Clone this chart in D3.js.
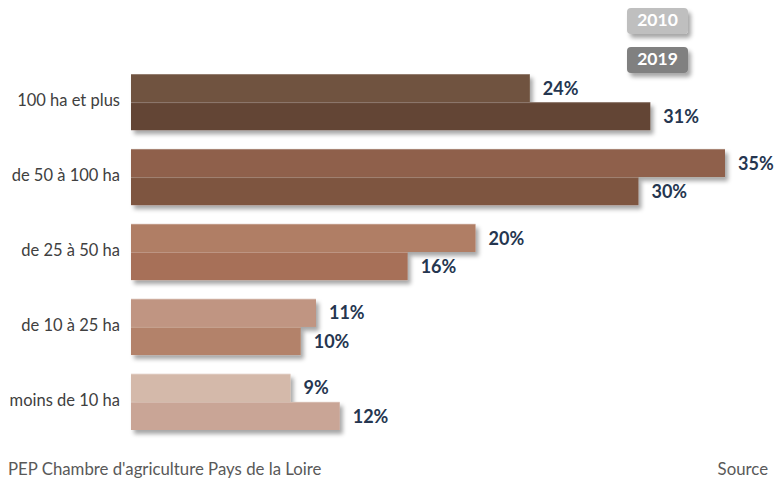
<!DOCTYPE html>
<html>
<head>
<meta charset="utf-8">
<script src="https://cdn.jsdelivr.net/npm/d3@7"></script>
<style>
  body { margin: 0; background: #fff; }
  text { font-family: Lato, "Open Sans", sans-serif; }
</style>
</head>
<body>
<script>
//chart data
var categories = ["100 ha et plus", "de 50 à 100 ha", "de 25 à 50 ha", "de 10 à 25 ha", "moins de 10 ha"];
var years = ["2010", "2019"];
var values2010 = [23.5, 35.0, 20.3, 10.9, 9.4];
var values2019 = [30.6, 29.9, 16.3, 10.0, 12.3];
var labels2010 = ["24%", "35%", "20%", "11%", "9%"];
var labels2019 = ["31%", "30%", "16%", "10%", "12%"];

//bar colours, one pair per category
var colors2010 = ["#70523f", "#8f614b", "#b07e65", "#c09582", "#d4b9aa"];
var colors2019 = ["#634434", "#7e5540", "#a77058", "#b3826b", "#c9a596"];

var width = 775,
    height = 478;

var svg = d3.select("body")
    .append("svg")
    .attr("width", width)
    .attr("height", height);

//drop shadow for bars and legend boxes
var defs = svg.append("defs");
defs.append("filter")
    .attr("id", "shadow")
    .attr("x", "-10%").attr("y", "-20%")
    .attr("width", "130%").attr("height", "160%")
    .append("feDropShadow")
    .attr("dx", 3).attr("dy", 4)
    .attr("stdDeviation", 2)
    .attr("flood-color", "#000")
    .attr("flood-opacity", 0.35);

var x = d3.scaleLinear()
    .domain([0, 35])
    .range([131, 725]);

var y = d3.scaleBand()
    .domain(categories)
    .range([74, 430])
    .paddingInner(0.25);

var ySub = d3.scaleBand()
    .domain(years)
    .range([0, y.bandwidth()]);

var rows = categories.map(function(c, i) {
    return {
        cat: c,
        bars: [
            {year: "2010", v: values2010[i], label: labels2010[i], color: colors2010[i]},
            {year: "2019", v: values2019[i], label: labels2019[i], color: colors2019[i]}
        ]
    };
});

var groups = svg.selectAll(".group")
    .data(rows)
    .enter()
    .append("g")
    .attr("class", "group")
    .attr("transform", function(d) { return "translate(0," + y(d.cat) + ")"; });

//bars
groups.selectAll(".bar")
    .data(function(d) { return d.bars; })
    .enter()
    .append("rect")
    .attr("class", "bar")
    .attr("x", x(0))
    .attr("y", function(d) { return ySub(d.year); })
    .attr("width", function(d) { return x(d.v) - x(0); })
    .attr("height", ySub.bandwidth())
    .attr("fill", function(d) { return d.color; })
    .attr("filter", "url(#shadow)");

//thin light edge on top of each bar
groups.selectAll(".edge")
    .data(function(d) { return d.bars; })
    .enter()
    .append("rect")
    .attr("class", "edge")
    .attr("x", x(0))
    .attr("y", function(d) { return ySub(d.year); })
    .attr("width", function(d) { return x(d.v) - x(0); })
    .attr("height", 1)
    .attr("fill", "#fff")
    .attr("opacity", 0.25);

//value labels
groups.selectAll(".val")
    .data(function(d) { return d.bars; })
    .enter()
    .append("text")
    .attr("class", "val")
    .attr("x", function(d) { return x(d.v) + 13; })
    .attr("y", function(d) { return ySub(d.year) + ySub.bandwidth() / 2 + 2; })
    .attr("dominant-baseline", "middle")
    .attr("font-size", "18px")
    .attr("font-weight", "bold")
    .attr("fill", "#253650")
    .text(function(d) { return d.label; });

//category labels
groups.append("text")
    .attr("x", 120)
    .attr("y", y.bandwidth() / 2)
    .attr("dominant-baseline", "middle")
    .attr("text-anchor", "end")
    .attr("font-size", "16.5px")
    .attr("fill", "#404040")
    .text(function(d) { return d.cat; });

//legend
var legendColors = ["#bfbfbf", "#808080"];
var legend = svg.selectAll(".legend")
    .data(years)
    .enter()
    .append("g")
    .attr("class", "legend")
    .attr("transform", function(d, i) { return "translate(627," + (8 + i * 39) + ")"; });

legend.append("rect")
    .attr("width", 61)
    .attr("height", 26)
    .attr("rx", 4)
    .attr("fill", function(d, i) { return legendColors[i]; })
    .attr("filter", "url(#shadow)");

legend.append("text")
    .attr("x", 30.5)
    .attr("y", 14)
    .attr("text-anchor", "middle")
    .attr("dominant-baseline", "middle")
    .attr("font-size", "17.5px")
    .attr("font-weight", "bold")
    .attr("fill", "#fff")
    .text(function(d) { return d; });

//footer
svg.append("text")
    .attr("x", 8)
    .attr("y", 475)
    .attr("font-size", "16.8px")
    .attr("fill", "#595959")
    .text("PEP Chambre d'agriculture Pays de la Loire");

svg.append("text")
    .attr("x", 768)
    .attr("y", 475)
    .attr("text-anchor", "end")
    .attr("font-size", "16.8px")
    .attr("fill", "#595959")
    .text("Source");
</script>
</body>
</html>
